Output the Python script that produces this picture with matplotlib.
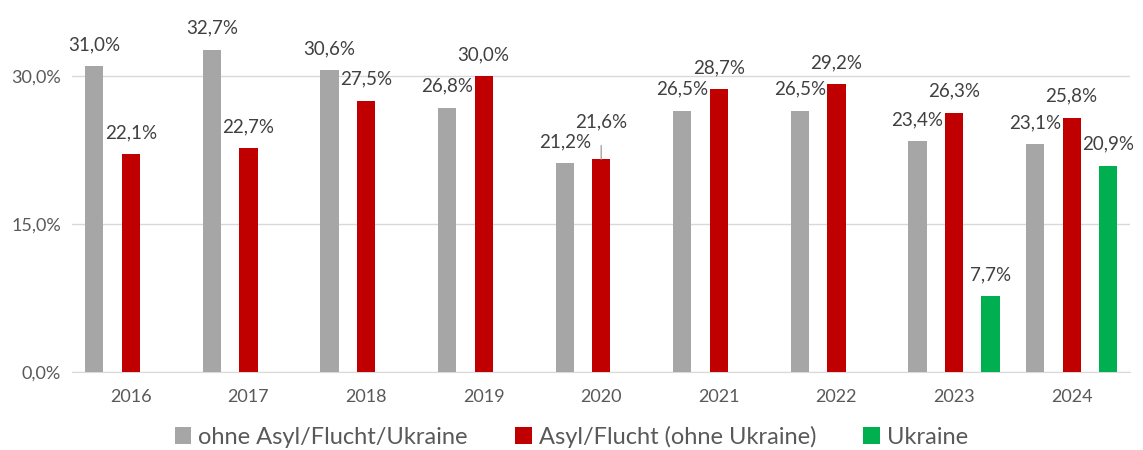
import matplotlib.pyplot as plt
import numpy as np
from matplotlib.ticker import FuncFormatter

years = ["2016", "2017", "2018", "2019", "2020", "2021", "2022", "2023", "2024"]
ohne = [31.0, 32.7, 30.6, 26.8, 21.2, 26.5, 26.5, 23.4, 23.1]
asyl = [22.1, 22.7, 27.5, 30.0, 21.6, 28.7, 29.2, 26.3, 25.8]
ukraine = [None, None, None, None, None, None, None, 7.7, 20.9]

series_names = ["ohne Asyl/Flucht/Ukraine", "Asyl/Flucht (ohne Ukraine)", "Ukraine"]
colors = ["#A6A6A6", "#C00000", "#00B050"]

plt.rcParams['font.family'] = ['Lato', 'DejaVu Sans']

fig = plt.figure(figsize=(11.43, 4.5), dpi=100)
ax = fig.add_axes([0.063, 0.173, 0.926, 0.767])

x = np.arange(len(years))
w = 0.155
off = 0.31


def fmt(v):
    return f"{v:.1f}%".replace(".", ",")


for i, (vals, c, name) in enumerate(zip([ohne, asyl, ukraine], colors, series_names)):
    xs = [xx + (i - 1) * off for xx, v in zip(x, vals) if v is not None]
    vs = [v for v in vals if v is not None]
    ax.bar(xs, vs, width=w, color=c, label=name, zorder=3)
    for xx, v in zip(xs, vs):
        if name == series_names[1] and v == 21.6:
            # label moved up with a leader line
            ax.annotate(fmt(v), xy=(xx, v), xytext=(xx, v + 3.8), ha='center', va='center',
                        fontsize=13.5, color='#404040',
                        arrowprops=dict(arrowstyle='-', color='#A6A6A6', lw=1, shrinkA=9, shrinkB=0))
        else:
            ax.text(xx, v + 2.2, fmt(v), ha='center', va='center', fontsize=13.5, color='#404040')

ax.set_xlim(-0.5, len(years) - 0.5)
ax.set_ylim(0, 35)
ax.set_yticks([0, 15, 30])
ax.yaxis.set_major_formatter(FuncFormatter(lambda v, p: fmt(v)))
ax.set_xticks(x)
ax.set_xticklabels(years)
ax.tick_params(axis='both', length=0, labelsize=13, colors='#595959')
ax.tick_params(axis='x', pad=12)
ax.tick_params(axis='y', pad=8)
ax.grid(axis='y', color='#D9D9D9', lw=1, zorder=0)
for s in ['top', 'right', 'left']:
    ax.spines[s].set_visible(False)
ax.spines['bottom'].set_color('#D9D9D9')

leg = fig.legend(loc='center', bbox_to_anchor=(0.5, 0.03), ncol=3, frameon=False,
                 fontsize=17, handlelength=0.7, handleheight=0.7, handletextpad=0.3, columnspacing=2.0)
for t in leg.get_texts():
    t.set_color('#595959')

fig.savefig("out.png", dpi=100)
